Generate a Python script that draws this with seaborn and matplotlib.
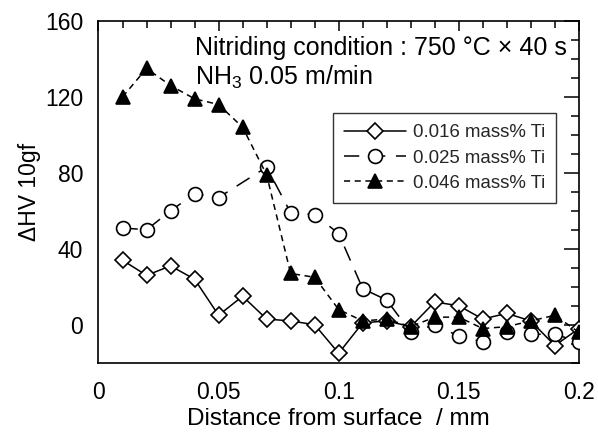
import matplotlib
matplotlib.use("Agg")
import matplotlib.pyplot as plt
import seaborn as sns
import pandas as pd
from matplotlib.ticker import MultipleLocator
from matplotlib.lines import Line2D

sns.set_theme(style="white")
plt.rcParams['font.family'] = ['Liberation Sans', 'DejaVu Sans']
plt.rcParams['mathtext.fontset'] = 'custom'
plt.rcParams['mathtext.rm'] = 'Liberation Sans'

# Data
dist_016 = [0.01, 0.02, 0.03, 0.04, 0.05, 0.06, 0.07, 0.08, 0.09, 0.10,
            0.11, 0.12, 0.13, 0.14, 0.15, 0.16, 0.17, 0.18, 0.19, 0.20]
hv_016 = [34, 26, 31, 24, 5, 15, 3, 2, 0, -15,
          1, 2, -1, 12, 10, 3, 6, 2, -11, -2]

dist_025 = [0.01, 0.02, 0.03, 0.04, 0.05, 0.07, 0.08, 0.09, 0.10,
            0.11, 0.12, 0.13, 0.14, 0.15, 0.16, 0.17, 0.18, 0.19, 0.20]
hv_025 = [51, 50, 60, 69, 67, 83, 59, 58, 48,
          19, 13, -4, 0, -6, -9, -4, -5, -5, -9]

dist_046 = [0.01, 0.02, 0.03, 0.04, 0.05, 0.06, 0.07, 0.08, 0.09, 0.10,
            0.11, 0.12, 0.13, 0.14, 0.15, 0.16, 0.17, 0.18, 0.19, 0.20]
hv_046 = [120, 135, 126, 119, 116, 104, 79, 27, 25, 8,
          2, 3, -1, 4, 4, -2, -1, 2, 5, -4]

labels = ["0.016 mass% Ti", "0.025 mass% Ti", "0.046 mass% Ti"]

fig = plt.figure(figsize=(5.98, 4.37), dpi=100)
ax = fig.add_axes([0.1647, 0.170, 0.968 - 0.1647, 0.952 - 0.170])

styles = [
    dict(marker="D", dashes=None, ms=8.5, mfc="white"),
    dict(marker="o", dashes=(10, 7), ms=10, mfc="white"),
    dict(marker="^", dashes=(4, 3), ms=10, mfc="black"),
]
datasets = [(dist_016, hv_016), (dist_025, hv_025), (dist_046, hv_046)]

handles = []
for (xs, ys), st, lab in zip(datasets, styles, labels):
    df = pd.DataFrame({"x": xs, "y": ys})
    sns.lineplot(data=df, x="x", y="y", ax=ax, color="black", lw=1.1,
                 marker=st["marker"], markersize=st["ms"], markerfacecolor=st["mfc"],
                 markeredgecolor="black", markeredgewidth=1.2,
                 estimator=None, sort=False, legend=False, zorder=3)
    line = ax.get_lines()[-1]
    if st["dashes"] is not None:
        line.set_dashes(st["dashes"])
    h = Line2D([], [], color="black", lw=1.1, marker=st["marker"], markersize=st["ms"],
               markerfacecolor=st["mfc"], markeredgecolor="black", markeredgewidth=1.2)
    if st["dashes"] is not None:
        h.set_dashes(st["dashes"])
    handles.append(h)

ax.set_xlim(0, 0.2)
ax.set_ylim(-20, 160)
ax.xaxis.set_major_locator(MultipleLocator(0.05))
ax.xaxis.set_minor_locator(MultipleLocator(0.01))
ax.yaxis.set_major_locator(MultipleLocator(40))
ax.yaxis.set_minor_locator(MultipleLocator(10))
ax.set_xticks([0, 0.05, 0.1, 0.15, 0.2])
ax.set_xticklabels(["0", "0.05", "0.1", "0.15", "0.2"])
ax.tick_params(which="both", direction="in", top=True, right=True, colors="black",
               labelsize=16.5, width=1.1)
ax.tick_params(which="major", axis="y", length=11)
ax.tick_params(which="minor", axis="y", length=6)
ax.tick_params(which="major", axis="x", length=7)
ax.tick_params(which="minor", axis="x", length=5)
ax.tick_params(axis="x", pad=13)
ax.tick_params(axis="y", pad=11)
for s in ax.spines.values():
    s.set_color("black")
    s.set_linewidth(1.2)

ax.set_xlabel("Distance from surface  / mm", fontsize=17.5, color="black", labelpad=3)
ax.set_ylabel("\u0394HV 10gf", fontsize=16.5, color="black", labelpad=3)

ax.text(0.040, 146, "Nitriding condition : 750 \u00b0C \u00d7 40 s", fontsize=18,
        color="black", va="center", ha="left")
ax.text(0.040, 130.5, "NH$_3$ 0.05 m/min", fontsize=18, color="black",
        va="center", ha="left")

leg = ax.legend(handles, labels, loc="upper left", bbox_to_anchor=(333 / 598, 1 - 113 / 437),
                bbox_transform=fig.transFigure, borderaxespad=0,
                fontsize=13.4, frameon=True, fancybox=False, edgecolor="black",
                handlelength=3.3, handletextpad=0.4, borderpad=0.6, labelspacing=0.45)
leg.get_frame().set_linewidth(1.0)
leg.get_frame().set_facecolor("white")
leg.set_zorder(5)

fig.savefig("out.png", dpi=100)
